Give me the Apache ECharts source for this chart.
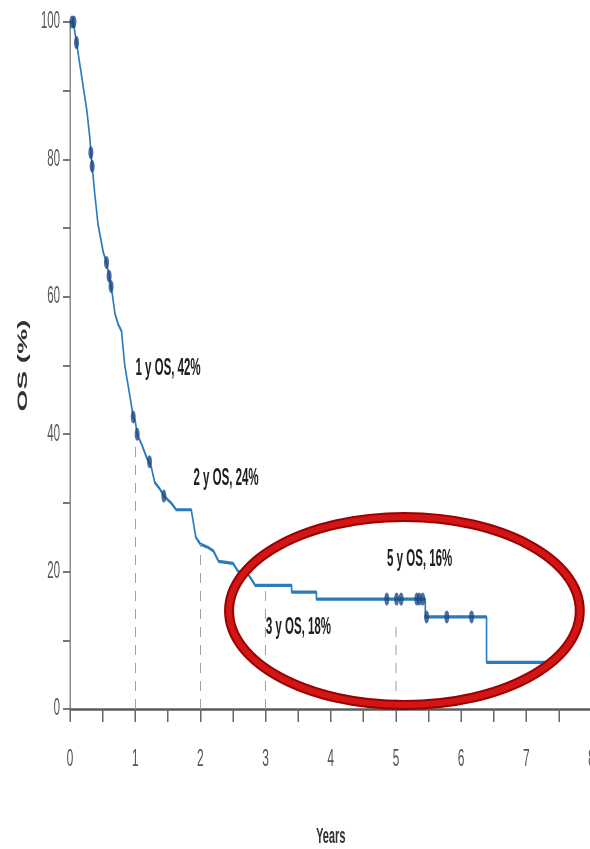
<!DOCTYPE html>
<html>
<head>
<meta charset="utf-8">
<script src="https://cdn.jsdelivr.net/npm/echarts@6/dist/echarts.min.js"></script>
<style>
  html, body { margin: 0; padding: 0; background: #fff; overflow: hidden; }
  /* The chart is laid out twice as wide and squeezed horizontally,
     giving the tall, condensed lettering of the original figure. */
  #frame { width: 590px; height: 849px; overflow: hidden; position: relative; }
  #chart { position: absolute; left: 0; top: 0; width: 1180px; height: 849px;
           transform: scaleX(0.5); transform-origin: 0 0; }
</style>
</head>
<body>
<div id="frame"><div id="chart"></div></div>
<script>
// Kaplan-Meier overall survival, corner points of the curve (years, %)
const curveYears = [0, 0.05, 0.1, 0.18, 0.26, 0.3, 0.33, 0.38, 0.43, 0.51, 0.56, 0.6, 0.64, 0.69, 0.74, 0.79,
  0.84, 0.92, 0.97, 1.0, 1.03, 1.1, 1.18, 1.24, 1.3, 1.38, 1.44, 1.55, 1.63, 1.86, 1.93, 2.0, 2.12, 2.2,
  2.28, 2.5, 2.58, 2.72, 2.84, 3.4, 3.4, 3.78, 3.78, 5.45, 5.45, 6.39, 6.39, 7.36];
const curvePct = [100, 100, 97, 92, 87, 83.5, 80, 75, 70.5, 66.5, 65, 63, 61, 57.5, 56, 55,
  50, 45.5, 42.5, 42, 40, 38.5, 36.5, 35.5, 33, 32, 31, 30, 29, 29, 25, 24, 23.5, 23,
  21.5, 21.2, 20, 19.8, 18, 18, 17, 17, 16, 16, 13.4, 13.4, 6.8, 6.8];

// Censored observations (years, %)
const censorYears = [0.03, 0.06, 0.1, 0.32, 0.34, 0.56, 0.6, 0.63, 0.97, 1.03, 1.22, 1.44,
  4.86, 5.01, 5.08, 5.32, 5.36, 5.41, 5.47, 5.78, 6.16];
const censorPct = [100, 100, 97, 81, 79, 65, 63, 61.5, 42.5, 40, 36, 31,
  16, 16, 16, 16, 16, 16, 13.4, 13.4, 13.4];

// Landmark survival estimates
const landmarkYears = [1, 2, 3, 5];
const landmarkPct = [42, 24, 18, 16];
// Height (%) reached by each dashed guide
const guideTopPct = [39, 24, 18, 12];

// Axis ticks
const xMin = 0, xMax = 8, xStep = 1;
const yMin = 0, yMax = 100, yStep = 20;

const FONT = '"Liberation Sans", Arial, sans-serif';

const curve = curveYears.map((x, i) => [x, curvePct[i]]);
const censors = censorYears.map((x, i) => [x, censorPct[i]]);

// Text placement of the landmark notes: left edge and vertical centre, in axis units
const noteSpots = [[1.0, 49.6], [1.89, 33.5], [3.0, 11.8], [4.86, 21.8]];

const guides = landmarkYears.map((x, i) => [
  { coord: [x, 0] },
  { coord: [x, guideTopPct[i]] }
]);

const notes = landmarkYears.map((x, i) => ({
  coord: noteSpots[i],
  label: { formatter: x + ' y OS, ' + landmarkPct[i] + '%' }
}));

const chart = echarts.init(document.getElementById('chart'), null, { renderer: 'canvas' });

chart.setOption({
  backgroundColor: '#ffffff',
  animation: false,
  grid: { left: 140, top: 22, width: 1043, height: 687, outerBoundsMode: 'none', containLabel: false },
  xAxis: {
    type: 'value', min: xMin, max: xMax, interval: xStep / 2,
    axisLine: { show: true, onZero: false, lineStyle: { color: '#5c5c5c', width: 2.5 } },
    axisTick: { show: true, length: 13, lineStyle: { color: '#666', width: 3 } },
    axisLabel: {
      margin: 38, fontSize: 24, color: '#555', fontFamily: FONT,
      showMinLabel: true, showMaxLabel: true,
      formatter: v => (Math.abs(v / xStep - Math.round(v / xStep)) < 1e-9 ? String(v) : '')
    },
    splitLine: { show: false },
    name: 'Years', nameLocation: 'middle', nameGap: 117,
    nameTextStyle: { fontSize: 22, fontWeight: 'bold', color: '#333', fontFamily: FONT }
  },
  yAxis: {
    type: 'value', min: yMin, max: yMax, interval: yStep / 2,
    axisLine: { show: true, lineStyle: { color: '#8a8a8a', width: 3 } },
    axisTick: { show: true, length: 14, lineStyle: { color: '#777', width: 2 } },
    axisLabel: {
      margin: 20, fontSize: 23, color: '#555', fontFamily: FONT,
      formatter: v => (v % yStep === 0 ? String(v) : '')
    },
    splitLine: { show: false },
    name: 'OS (%)', nameLocation: 'middle', nameGap: 80, nameRotate: 90,
    nameTextStyle: { fontSize: 28, fontWeight: 'bold', color: '#333', fontFamily: FONT }
  },
  series: [
    {
      type: 'line',
      data: curve,
      symbol: 'none',
      z: 3,
      lineStyle: { color: '#2a7bbb', width: 3.2 },
      markLine: {
        silent: true,
        symbol: 'none',
        label: { show: false },
        lineStyle: { color: '#a0a0a0', width: 2, type: [10, 8] },
        data: guides
      },
      markPoint: {
        silent: true,
        symbol: 'rect',
        symbolSize: 1,
        itemStyle: { color: 'rgba(0,0,0,0)' },
        label: {
          show: true, position: 'right', distance: 0,
          fontSize: 23, fontWeight: 'bold', color: '#1e1e1e', fontFamily: FONT
        },
        data: notes
      }
    },
    {
      type: 'scatter',
      data: censors,
      symbol: 'circle',
      symbolSize: [10, 13],
      z: 4,
      itemStyle: { color: '#1d4a85' }
    }
  ]
});

// Red highlight ring around the long-term plateau (centre and radii in axis units)
const ring = { x: 5.13, y: 14.26, rx: 2.69, ry: 13.68 };
const c = chart.convertToPixel({ gridIndex: 0 }, [ring.x, ring.y]);
const e = chart.convertToPixel({ gridIndex: 0 }, [ring.x + ring.rx, ring.y + ring.ry]);
const rxPx = (e[0] - c[0]) / 2;   // drawn with scaleX 2 so the stroke stays even
const ryPx = c[1] - e[1];

chart.setOption({
  graphic: [
    {
      type: 'ellipse', x: c[0], y: c[1], scaleX: 2, z: 100,
      shape: { cx: 0, cy: 0, rx: rxPx, ry: ryPx },
      style: { fill: null, stroke: '#9a0000', lineWidth: 10 }
    },
    {
      type: 'ellipse', x: c[0], y: c[1], scaleX: 2, z: 101,
      shape: { cx: 0, cy: 0, rx: rxPx, ry: ryPx },
      style: { fill: null, stroke: '#d21616', lineWidth: 6 }
    }
  ]
});
</script>
</body>
</html>
